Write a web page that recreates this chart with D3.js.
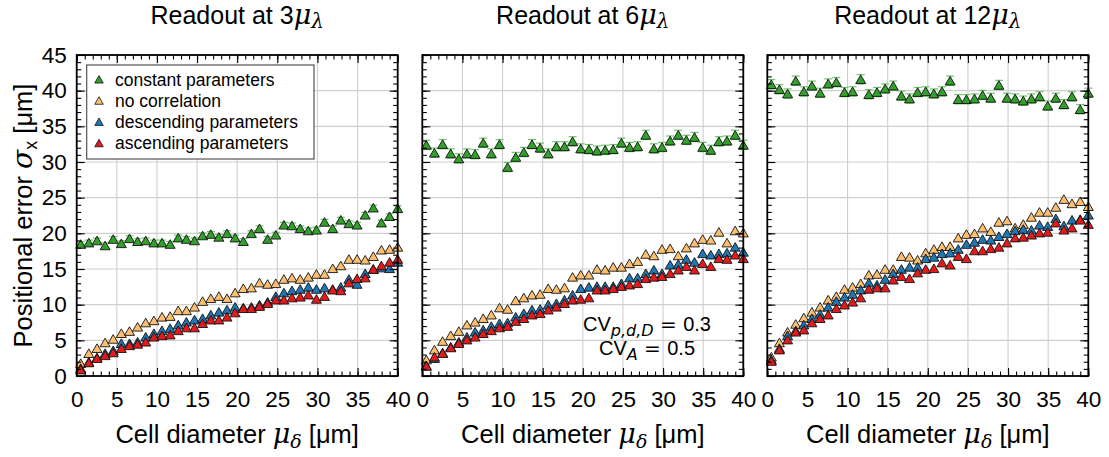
<!DOCTYPE html>
<html>
<head>
<meta charset="utf-8">
<script src="https://cdn.jsdelivr.net/npm/d3@7"></script>
<style>
  html, body { margin: 0; padding: 0; background: #fff; }
  svg { display: block; }
  text { font-family: "Liberation Sans", Arial, Helvetica, sans-serif; fill: #000; }
</style>
</head>
<body>
<svg id="chart" width="1109" height="457"></svg>
<script>
// ---------- data ----------
const cellDiameter = [0.5,1.51,2.53,3.54,4.55,5.56,6.58,7.59,8.6,9.62,10.63,11.64,12.65,13.67,14.68,15.69,16.71,17.72,18.73,19.74,
                      20.76,21.77,22.78,23.79,24.81,25.82,26.83,27.85,28.86,29.87,30.88,31.9,32.91,33.92,34.94,35.95,36.96,37.97,38.99,40];

const panelTitles = ["3", "6", "12"];
const seriesNames = ["constant parameters", "no correlation", "descending parameters", "ascending parameters"];
const seriesColors = ["#33a02c", "#fdbf6f", "#1f78b4", "#e31a1c"];
const xTicks = [0,5,10,15,20,25,30,35,40];
const yTicks = [0,5,10,15,20,25,30,35,40,45];

// Readout at 3 mu_lambda
const constant3 = [18.5,18.7,19.0,18.3,19.2,18.6,19.3,18.9,19.0,18.7,18.7,18.5,19.4,19.2,19.0,19.7,19.9,19.5,20.0,19.4,
                   18.9,20.0,20.7,19.2,19.8,21.2,21.1,20.7,20.4,20.5,21.6,20.7,21.9,21.4,21.2,22.6,23.6,21.5,22.4,23.5];
const noCorr3   = [1.8,3.2,3.9,4.7,5.2,6.0,6.3,6.9,7.5,7.8,8.3,8.4,9.2,9.2,9.7,10.5,10.9,11.2,10.9,11.7,
                   12.3,12.4,13.1,12.9,13.0,13.6,13.8,13.6,13.9,14.3,14.3,15.1,15.5,16.4,16.4,16.3,16.8,17.7,17.8,18.1];
const desc3     = [1.1,2.0,2.6,3.2,3.6,4.6,4.6,4.8,5.5,6.0,6.4,6.7,7.2,7.6,7.9,8.1,8.6,9.0,9.3,9.7,
                   9.6,9.7,10.0,10.4,11.2,11.7,12.0,12.2,12.5,12.2,12.4,12.2,12.5,13.6,12.9,14.4,15.0,15.2,15.1,16.0];
const asc3      = [0.9,1.9,2.5,2.9,3.3,3.9,4.3,4.5,4.8,5.5,5.7,5.8,6.4,6.8,6.8,7.4,7.9,7.9,8.3,8.9,
                   9.5,9.5,9.8,10.2,10.7,10.7,11.0,11.1,11.4,10.8,11.2,12.1,12.0,13.1,13.7,13.8,15.0,15.5,16.0,16.4];

// Readout at 6 mu_lambda
const constant6 = [32.4,31.3,32.5,31.2,30.5,31.2,31.1,32.7,31.2,32.5,29.3,30.7,31.4,32.5,32.0,31.2,32.2,32.2,32.9,31.9,
                   31.8,31.6,31.7,31.8,32.7,32.1,32.2,33.8,31.9,32.1,33.0,33.8,33.1,33.5,32.1,31.7,32.9,33.0,33.8,32.4];
const noCorr6   = [2.3,3.7,4.9,5.7,6.3,7.2,7.6,8.1,8.6,9.6,9.4,10.6,11.0,11.4,11.5,12.3,12.2,12.4,13.9,14.2,
                   14.2,15.0,14.9,15.3,15.3,15.8,16.1,17.1,16.9,17.8,17.9,16.9,18.0,18.7,19.2,19.1,20.2,18.7,20.4,20.1];
const desc6     = [1.5,2.5,3.3,4.1,4.8,5.5,6.2,6.5,7.0,7.4,7.5,8.3,8.8,9.3,9.4,10.0,10.2,10.7,11.4,12.3,
                   12.5,12.6,12.6,12.6,13.0,13.8,13.8,14.4,14.9,14.4,15.6,15.7,16.4,16.0,17.2,17.0,17.2,17.3,18.1,17.4];
const asc6      = [1.4,2.7,3.2,4.0,4.6,5.1,5.5,6.0,6.4,6.8,7.0,7.7,8.1,8.6,8.8,9.3,9.7,10.2,10.7,10.8,
                   11.0,12.1,12.1,12.3,12.6,12.8,13.0,13.7,13.9,14.0,14.4,14.9,15.4,14.9,15.8,15.4,16.5,16.4,17.0,16.5];

// Readout at 12 mu_lambda
const constant12 = [40.9,40.2,39.6,41.4,39.9,40.7,39.7,41.0,41.2,39.8,39.9,41.6,39.5,39.8,40.3,40.7,39.3,38.9,39.8,39.9,
                    39.6,39.9,41.4,38.8,38.8,38.9,39.4,39.0,40.8,39.0,38.9,38.6,38.9,39.2,37.9,39.0,38.1,39.2,37.4,39.7];
const noCorr12   = [2.7,4.7,6.2,7.3,8.2,9.0,9.7,10.7,11.2,12.2,12.5,13.0,14.2,14.3,15.0,15.0,16.8,16.7,16.3,17.3,
                    17.8,18.2,18.2,19.4,19.9,20.0,20.8,20.3,21.6,21.8,20.8,21.3,22.3,23.0,23.0,23.7,24.8,24.2,24.5,23.8];
const desc12     = [2.3,3.9,5.7,6.4,7.2,8.1,8.7,9.7,10.5,11.1,11.5,12.1,13.1,12.8,13.6,14.4,15.0,15.3,15.3,16.5,
                    16.7,17.2,17.3,17.8,18.5,18.8,19.2,19.1,19.6,20.0,20.4,20.6,20.5,21.2,21.0,22.1,21.1,21.9,22.0,22.6];
const asc12      = [2.1,3.7,5.1,6.2,6.5,7.5,8.1,8.6,9.5,10.0,10.4,11.0,12.2,12.4,12.4,13.5,14.0,13.7,14.5,15.0,
                    15.1,15.9,15.6,16.8,16.5,17.6,17.6,17.9,18.1,18.7,19.4,19.5,19.8,20.1,20.2,21.5,20.5,20.8,21.9,21.3];

// typical half-width of the green error bars per panel
const constantErr = [0.35, 0.65, 0.65];

const panelSeries = [
  [constant3, noCorr3, desc3, asc3],
  [constant6, noCorr6, desc6, asc6],
  [constant12, noCorr12, desc12, asc12]
];

// ---------- layout ----------
const svg = d3.select("#chart");
const panelLeft = [76.7, 422.3, 767.3];
const plotW = 321, plotTop = 55, plotBottom = 376;
const yScale = d3.scaleLinear().domain([0, 45]).range([plotBottom, plotTop]);

function tri(w, h) {
  return `M0,${-h/2}L${w/2},${h/2}L${-w/2},${h/2}Z`;
}
const mathFont = "'DejaVu Serif', serif";

panelSeries.forEach((series, pi) => {
  const x0 = panelLeft[pi];
  const xScale = d3.scaleLinear().domain([0, 40]).range([x0, x0 + plotW]);
  const g = svg.append("g");

  // grid
  g.append("g").selectAll("line.gx").data(xTicks.slice(1, -1)).join("line")
    .attr("x1", d => xScale(d)).attr("x2", d => xScale(d))
    .attr("y1", plotTop).attr("y2", plotBottom)
    .attr("stroke", "#cfcfcf").attr("stroke-width", 1.1);
  g.append("g").selectAll("line.gy").data(yTicks.slice(1, -1)).join("line")
    .attr("x1", x0).attr("x2", x0 + plotW)
    .attr("y1", d => yScale(d)).attr("y2", d => yScale(d))
    .attr("stroke", "#cfcfcf").attr("stroke-width", 1.1);

  // data
  series.forEach((vals, si) => {
    const sg = g.append("g");
    if (si === 0) {
      const e = constantErr[pi];
      const eb = sg.append("g").attr("stroke", "#6cc46a").attr("stroke-width", 1.2);
      vals.forEach((v, i) => {
        const cx = xScale(cellDiameter[i]);
        eb.append("line").attr("x1", cx).attr("x2", cx).attr("y1", yScale(v - e)).attr("y2", yScale(v + e));
        eb.append("line").attr("x1", cx - 4).attr("x2", cx + 4).attr("y1", yScale(v - e)).attr("y2", yScale(v - e));
        eb.append("line").attr("x1", cx - 4).attr("x2", cx + 4).attr("y1", yScale(v + e)).attr("y2", yScale(v + e));
      });
    }
    sg.selectAll("path").data(vals).join("path")
      .attr("d", tri(10, 8.6))
      .attr("transform", (v, i) => `translate(${xScale(cellDiameter[i])},${yScale(v)})`)
      .attr("fill", seriesColors[si])
      .attr("stroke", "#111").attr("stroke-width", 0.9)
      .attr("stroke-linejoin", "miter");
  });

  // axes: major and minor ticks, inward on all sides
  const minorX = d3.range(0, 41, 1), minorY = d3.range(0, 46, 1);
  const bottom = d3.axisBottom(xScale).tickValues(xTicks).tickSize(-8).tickPadding(15).tickFormat(d3.format("d"));
  const bottomMinor = d3.axisBottom(xScale).tickValues(minorX).tickSize(-4.5).tickFormat("");
  const top = d3.axisTop(xScale).tickValues(xTicks).tickSize(-8).tickFormat("");
  const topMinor = d3.axisTop(xScale).tickValues(minorX).tickSize(-4.5).tickFormat("");
  const left = d3.axisLeft(yScale).tickValues(yTicks).tickSize(-8).tickPadding(10).tickFormat(pi === 0 ? d3.format("d") : "");
  const leftMinor = d3.axisLeft(yScale).tickValues(minorY).tickSize(-4.5).tickFormat("");
  const right = d3.axisRight(yScale).tickValues(yTicks).tickSize(-8).tickFormat("");
  const rightMinor = d3.axisRight(yScale).tickValues(minorY).tickSize(-4.5).tickFormat("");

  const axes = [
    [bottom, `translate(0,${plotBottom})`], [bottomMinor, `translate(0,${plotBottom})`],
    [top, `translate(0,${plotTop})`], [topMinor, `translate(0,${plotTop})`],
    [left, `translate(${x0},0)`], [leftMinor, `translate(${x0},0)`],
    [right, `translate(${x0 + plotW},0)`], [rightMinor, `translate(${x0 + plotW},0)`]
  ];
  axes.forEach(([ax, tr]) => {
    const a = g.append("g").attr("transform", tr).call(ax);
    a.select(".domain").remove();
    a.selectAll(".tick line").attr("stroke", "#000").attr("stroke-width", 1.1);
    a.selectAll(".tick text").style("font-family", "'Liberation Sans', Arial, sans-serif").style("font-size", "22.5px").attr("fill", "#000");
  });

  // frame
  g.append("rect").attr("x", x0).attr("y", plotTop).attr("width", plotW).attr("height", plotBottom - plotTop)
    .attr("fill", "none").attr("stroke", "#000").attr("stroke-width", 1.8);

  // title
  const t = g.append("text").attr("x", x0 + plotW / 2).attr("y", 24).attr("text-anchor", "middle").style("font-size", "25px");
  t.append("tspan").text("Readout at " + panelTitles[pi]);
  t.append("tspan").text("μ").style("font-family", mathFont).style("font-style", "italic").style("font-size", "27px");
  t.append("tspan").text("λ").style("font-family", mathFont).style("font-style", "italic").style("font-size", "20px").attr("dy", 4);

  // x label
  const xl = g.append("text").attr("x", x0 + plotW / 2).attr("y", 443).attr("text-anchor", "middle").style("font-size", "25.5px");
  xl.append("tspan").text("Cell diameter ");
  xl.append("tspan").text("μ").style("font-family", mathFont).style("font-style", "italic").style("font-size", "27px");
  xl.append("tspan").text("δ").style("font-family", mathFont).style("font-style", "italic").style("font-size", "19px").attr("dy", 5);
  xl.append("tspan").text(" [μm]").attr("dy", -5);
});

// y label
const yl = svg.append("text").attr("transform", `translate(32,${(plotTop + plotBottom) / 2}) rotate(-90)`)
  .attr("text-anchor", "middle").style("font-size", "25.5px");
yl.append("tspan").text("Positional error ");
yl.append("tspan").text("σ").style("font-family", mathFont).style("font-style", "italic").style("font-size", "28px");
yl.append("tspan").text("x").style("font-size", "18px").attr("dy", 5);
yl.append("tspan").text(" [μm]").attr("dy", -5);

// legend (panel 1)
const lg = svg.append("g");
lg.append("rect").attr("x", 86.7).attr("y", 65).attr("width", 227.3).attr("height", 94)
  .attr("fill", "#fff").attr("stroke", "#444").attr("stroke-width", 1.1);
const rowY = [79.3, 100.5, 121.7, 143];
seriesNames.forEach((name, i) => {
  lg.append("path").attr("d", tri(8.5, 7.5)).attr("transform", `translate(99,${rowY[i]})`)
    .attr("fill", seriesColors[i]).attr("stroke", "#111").attr("stroke-width", 0.8);
  lg.append("text").attr("x", 115).attr("y", rowY[i]).attr("dy", "0.36em").style("font-size", "17.5px").text(name);
});

// annotation (panel 2)
const subStyle = s => s.style("font-family", "'DejaVu Sans', sans-serif").style("font-style", "italic").style("font-size", "16px");
const eqStyle = s => s.style("font-family", "'DejaVu Sans', sans-serif");
const ann = svg.append("g").style("font-size", "20px");
const a1 = ann.append("text").attr("x", 647).attr("y", 330.5).attr("text-anchor", "middle");
a1.append("tspan").text("CV");
a1.append("tspan").text("p,d,D").call(subStyle).attr("dy", 5);
a1.append("tspan").text(" = ").call(eqStyle).attr("dy", -5);
a1.append("tspan").text("0.3");
const a2 = ann.append("text").attr("x", 647).attr("y", 355).attr("text-anchor", "middle");
a2.append("tspan").text("CV");
a2.append("tspan").text("A").call(subStyle).attr("dy", 5);
a2.append("tspan").text(" = ").call(eqStyle).attr("dy", -5);
a2.append("tspan").text("0.5");
</script>
</body>
</html>
